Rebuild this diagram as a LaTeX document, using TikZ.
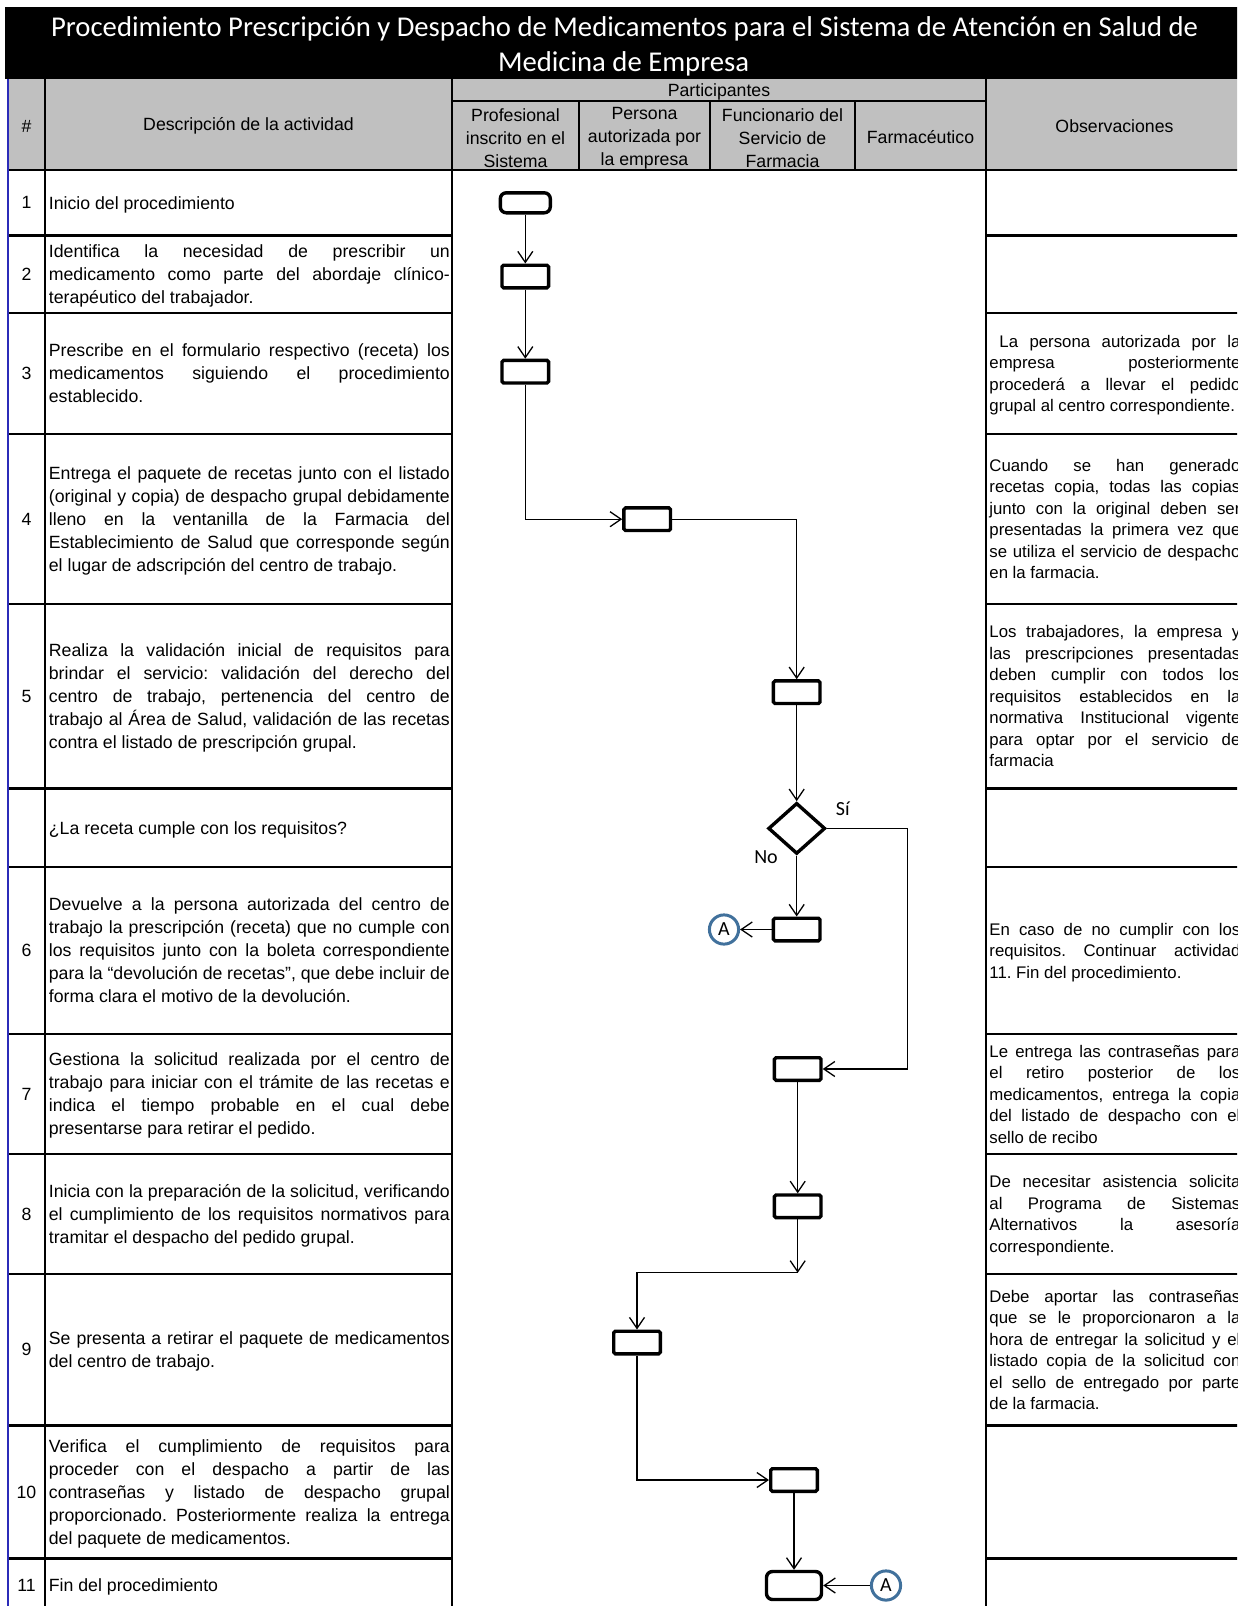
\documentclass[tikz,border=0pt]{standalone}
\usepackage{fontspec}
\setmainfont{Liberation Sans}
\newfontfamily\calib{Carlito}
\usetikzlibrary{arrows.meta,shapes.geometric}
\definecolor{hdrgray}{HTML}{C0C0C0}
\definecolor{circblue}{HTML}{41719C}
\definecolor{edgeblue}{HTML}{2B2BB8}
\newlength\titlew
\newcommand\jd[1]{\makebox[\linewidth][s]{#1}}
\newcommand\dfont{\fontsize{8.85pt}{11.5pt}\selectfont}
\newcommand\ofont{\fontsize{8.4pt}{10.75pt}\selectfont}
\newcommand\desccell[4]{%
  \node[inner sep=0pt, anchor=base west] (#1) at (48.5,{#2-(#3-1)*11.5+6.4}) {\parbox[t]{200.5pt}{\dfont\raggedright #4}};}
\newcommand\obscell[4]{%
  \node[inner sep=0pt, anchor=base west] (#1) at (989,{#2-(#3-1)*10.75+6}) {\parbox[t]{125.5pt}{\ofont\raggedright #4}};}
\tikzset{
  tline/.style={line width=1.1pt, black},
  hline/.style={line width=1.2pt, black},
  numst/.style={inner sep=0pt, font=\dfont},
  hdr/.style={inner sep=0pt, font=\dfont, align=center},
  flowbox/.style={draw, line width=1.7pt, minimum width=23.3pt, minimum height=11.3pt, inner sep=0pt, rounded corners=0.8pt},
  terminal/.style={draw, line width=1.7pt, inner sep=0pt, rounded corners=3pt},
  decision/.style={draw, shape=diamond, line width=1.7pt, minimum width=28.5pt, minimum height=25.5pt, inner sep=0pt},
  conn/.style={circle, draw=circblue, line width=1.5pt, minimum size=14.6pt, inner sep=0pt, font=\calib\fontsize{10pt}{12pt}\selectfont},
  lbl/.style={inner sep=0pt, font=\calib\fontsize{10pt}{12pt}\selectfont},
  arr/.style={draw, line width=0.65pt, -{Straight Barb[length=5.5pt,width=7.5pt]}},
}
\begin{document}
\frenchspacing
\settowidth\titlew{\calib\fontsize{10pt}{12pt}\selectfont Procedimiento Prescripción y Despacho de Medicamentos para el Sistema de Atención en Salud de}%
\pgfmathsetmacro\tfs{10*573.5/\titlew}%
\begin{tikzpicture}[x=0.5pt, y=-0.5pt]
\useasboundingbox (0,0) rectangle (1237,1606);
\clip (0,0) rectangle (1237,1606);
\fill[white] (0,0) rectangle (1237,1606);
% title band
\fill[black] (5,7) rectangle (1243,79);
\node[font=\calib\fontsize{\tfs pt}{\tfs pt}\selectfont, text=white, anchor=base, inner sep=0pt] (t1) at (624.6,36) {Procedimiento Prescripción y Despacho de Medicamentos para el Sistema de Atención en Salud de};
\node[font=\calib\fontsize{\tfs pt}{\tfs pt}\selectfont, text=white, anchor=base, inner sep=0pt] (t2) at (623.6,71.5) {Medicina de Empresa};
% header
\fill[hdrgray] (8,79) rectangle (1243,170);
\draw[tline] (45,79) -- (45,1606);
\draw[tline] (452,79) -- (452,1606);
\draw[tline] (986,79) -- (986,1606);
\draw[tline] (452,101) -- (986,101);
\draw[tline] (579,101) -- (579,170);
\draw[tline] (710,101) -- (710,170);
\draw[tline] (855,101) -- (855,170);
\draw[hline] (8,170) -- (1243,170);
\foreach \yy in {235.5,313,434,604,788.5,867,1034,1154,1274,1425.5,1558.5} {
  \draw[hline] (8,\yy) -- (452,\yy);
  \draw[hline] (986,\yy) -- (1243,\yy);
}
\draw[line width=1pt, edgeblue] (8,79) -- (8,1606);
\node[hdr] (hnum) at (26.5,126) {\#};
\node[hdr] (hdesc) at (248.5,126) {Descripción de la actividad};
\node[hdr] (hpart) at (719,92) {Participantes};
\node[hdr] (hp1) at (515.5,138) {Profesional\\inscrito en el\\Sistema};
\node[hdr] (hp2) at (644.5,138) {Persona\\autorizada por\\la empresa};
\node[hdr] (hp3) at (782.5,138) {Funcionario del\\Servicio de\\Farmacia};
\node[hdr] (hp4) at (920.5,137) {Farmacéutico};
\node[hdr] (hobs) at (1114.5,126) {Observaciones};
% numbers
\node[numst] (n1) at (26.5,202.8) {1};
\node[numst] (n2) at (26.5,274.3) {2};
\node[numst] (n3) at (26.5,373.5) {3};
\node[numst] (n4) at (26.5,519) {4};
\node[numst] (n5) at (26.5,696.3) {5};
\node[numst] (n6) at (26.5,950.5) {6};
\node[numst] (n7) at (26.5,1094) {7};
\node[numst] (n8) at (26.5,1214) {8};
\node[numst] (n9) at (26.5,1349.8) {9};
\node[numst] (n10) at (26.5,1492) {10};
\node[numst] (n11) at (26.5,1585) {11};
% descriptions
\desccell{d1}{202.8}{1}{Inicio del procedimiento}
\desccell{d2}{274.3}{3}{\jd{Identifica la necesidad de prescribir un}\\
\jd{medicamento como parte del abordaje clínico-}\\
terapéutico del trabajador.}
\desccell{d3}{373.5}{3}{\jd{Prescribe en el formulario respectivo (receta) los}\\
\jd{medicamentos siguiendo el procedimiento}\\
establecido.}
\desccell{d4}{519}{5}{\jd{Entrega el paquete de recetas junto con el listado}\\
\jd{(original y copia) de despacho grupal debidamente}\\
\jd{lleno en la ventanilla de la Farmacia del}\\
\jd{Establecimiento de Salud que corresponde según}\\
el lugar de adscripción del centro de trabajo.}
\desccell{d5}{696.3}{5}{\jd{Realiza la validación inicial de requisitos para}\\
\jd{brindar el servicio: validación del derecho del}\\
\jd{centro de trabajo, pertenencia del centro de}\\
\jd{trabajo al Área de Salud, validación de las recetas}\\
contra el listado de prescripción grupal.}
\desccell{dd}{827.8}{1}{¿La receta cumple con los requisitos?}
\desccell{d6}{950.5}{5}{\jd{Devuelve a la persona autorizada del centro de}\\
\jd{trabajo la prescripción (receta) que no cumple con}\\
\jd{los requisitos junto con la boleta correspondiente}\\
\jd{para la “devolución de recetas”, que debe incluir de}\\
forma clara el motivo de la devolución.}
\desccell{d7}{1094}{4}{\jd{Gestiona la solicitud realizada por el centro de}\\
\jd{trabajo para iniciar con el trámite de las recetas e}\\
\jd{indica el tiempo probable en el cual debe}\\
presentarse para retirar el pedido.}
\desccell{d8}{1214}{3}{\jd{Inicia con la preparación de la solicitud, verificando}\\
\jd{el cumplimiento de los requisitos normativos para}\\
tramitar el despacho del pedido grupal.}
\desccell{d9}{1349.8}{2}{\jd{Se presenta a retirar el paquete de medicamentos}\\
del centro de trabajo.}
\desccell{d10}{1492}{5}{\jd{Verifica el cumplimiento de requisitos para}\\
\jd{proceder con el despacho a partir de las}\\
\jd{contraseñas y listado de despacho grupal}\\
\jd{proporcionado. Posteriormente realiza la entrega}\\
del paquete de medicamentos.}
\desccell{d11}{1585}{1}{Fin del procedimiento}
% observations
\obscell{o3}{373.5}{4}{\jd{\hspace*{5pt}La persona autorizada por la}\\
\jd{empresa posteriormente}\\
\jd{procederá a llevar el pedido}\\
grupal al centro correspondiente.}
\obscell{o4}{519}{6}{\jd{Cuando se han generado}\\
\jd{recetas copia, todas las copias}\\
\jd{junto con la original deben ser}\\
\jd{presentadas la primera vez que}\\
\jd{se utiliza el servicio de despacho}\\
en la farmacia.}
\obscell{o5}{696.3}{7}{\jd{Los trabajadores, la empresa y}\\
\jd{las prescripciones presentadas}\\
\jd{deben cumplir con todos los}\\
\jd{requisitos establecidos en la}\\
\jd{normativa Institucional vigente}\\
\jd{para optar por el servicio de}\\
farmacia}
\obscell{o6}{950.5}{3}{\jd{En caso de no cumplir con los}\\
\jd{requisitos. Continuar actividad}\\
11. Fin del procedimiento.}
\obscell{o7}{1094}{5}{\jd{Le entrega las contraseñas para}\\
\jd{el retiro posterior de los}\\
\jd{medicamentos, entrega la copia}\\
\jd{del listado de despacho con el}\\
sello de recibo}
\obscell{o8}{1214}{4}{\jd{De necesitar asistencia solicita}\\
\jd{al Programa de Sistemas}\\
\jd{Alternativos la asesoría}\\
correspondiente.}
\obscell{o9}{1349.8}{6}{\jd{Debe aportar las contraseñas}\\
\jd{que se le proporcionaron a la}\\
\jd{hora de entregar la solicitud y el}\\
\jd{listado copia de la solicitud con}\\
\jd{el sello de entregado por parte}\\
de la farmacia.}
% flow
\node[terminal, minimum width=25pt, minimum height=10pt] (s) at (525.3,202.8) {};
\node[flowbox] (b2) at (525.3,276.5) {};
\node[flowbox] (b3) at (525.3,371.7) {};
\node[flowbox] (b4) at (647.2,519.2) {};
\node[flowbox] (b5) at (796.7,692.2) {};
\node[decision] (dm) at (796.7,828.4) {};
\node[flowbox] (b6) at (796.7,929.5) {};
\node[conn] (a1) at (724,929.5) {A};
\node[flowbox] (b7) at (797.7,1069) {};
\node[flowbox] (b8) at (797.7,1206.3) {};
\coordinate (j) at (797.7,1272.8);
\coordinate (rc) at (907.3,1069);
\node[flowbox] (b9) at (637,1342.5) {};
\node[flowbox] (b10) at (794,1480) {};
\node[terminal, minimum width=27.5pt, minimum height=14pt] (e) at (794,1585.5) {};
\node[conn] (a2) at (886,1585.5) {A};
\node[lbl] (si) at (842.8,809) {Sí};
\node[lbl] (no) at (766,857) {No};
\draw[arr] (s) -- (b2);
\draw[arr] (b2) -- (b3);
\draw[arr] (b3) |- (b4);
\draw[arr] (b4) -| (b5);
\draw[arr] (b5) -- (dm);
\draw[arr] (dm) -- (b6);
\draw[arr] (b6) -- (a1);
\draw[arr] (dm.east) -| (rc) -- (b7.east);
\draw[arr] (b7) -- (b8);
\draw[arr] (b8) -- (j);
\draw[arr] (j) -| (b9);
\draw[arr] (b9) |- (b10);
\draw[arr] (b10) -- (e);
\draw[arr] (a2) -- (e);
\end{tikzpicture}
\end{document}
